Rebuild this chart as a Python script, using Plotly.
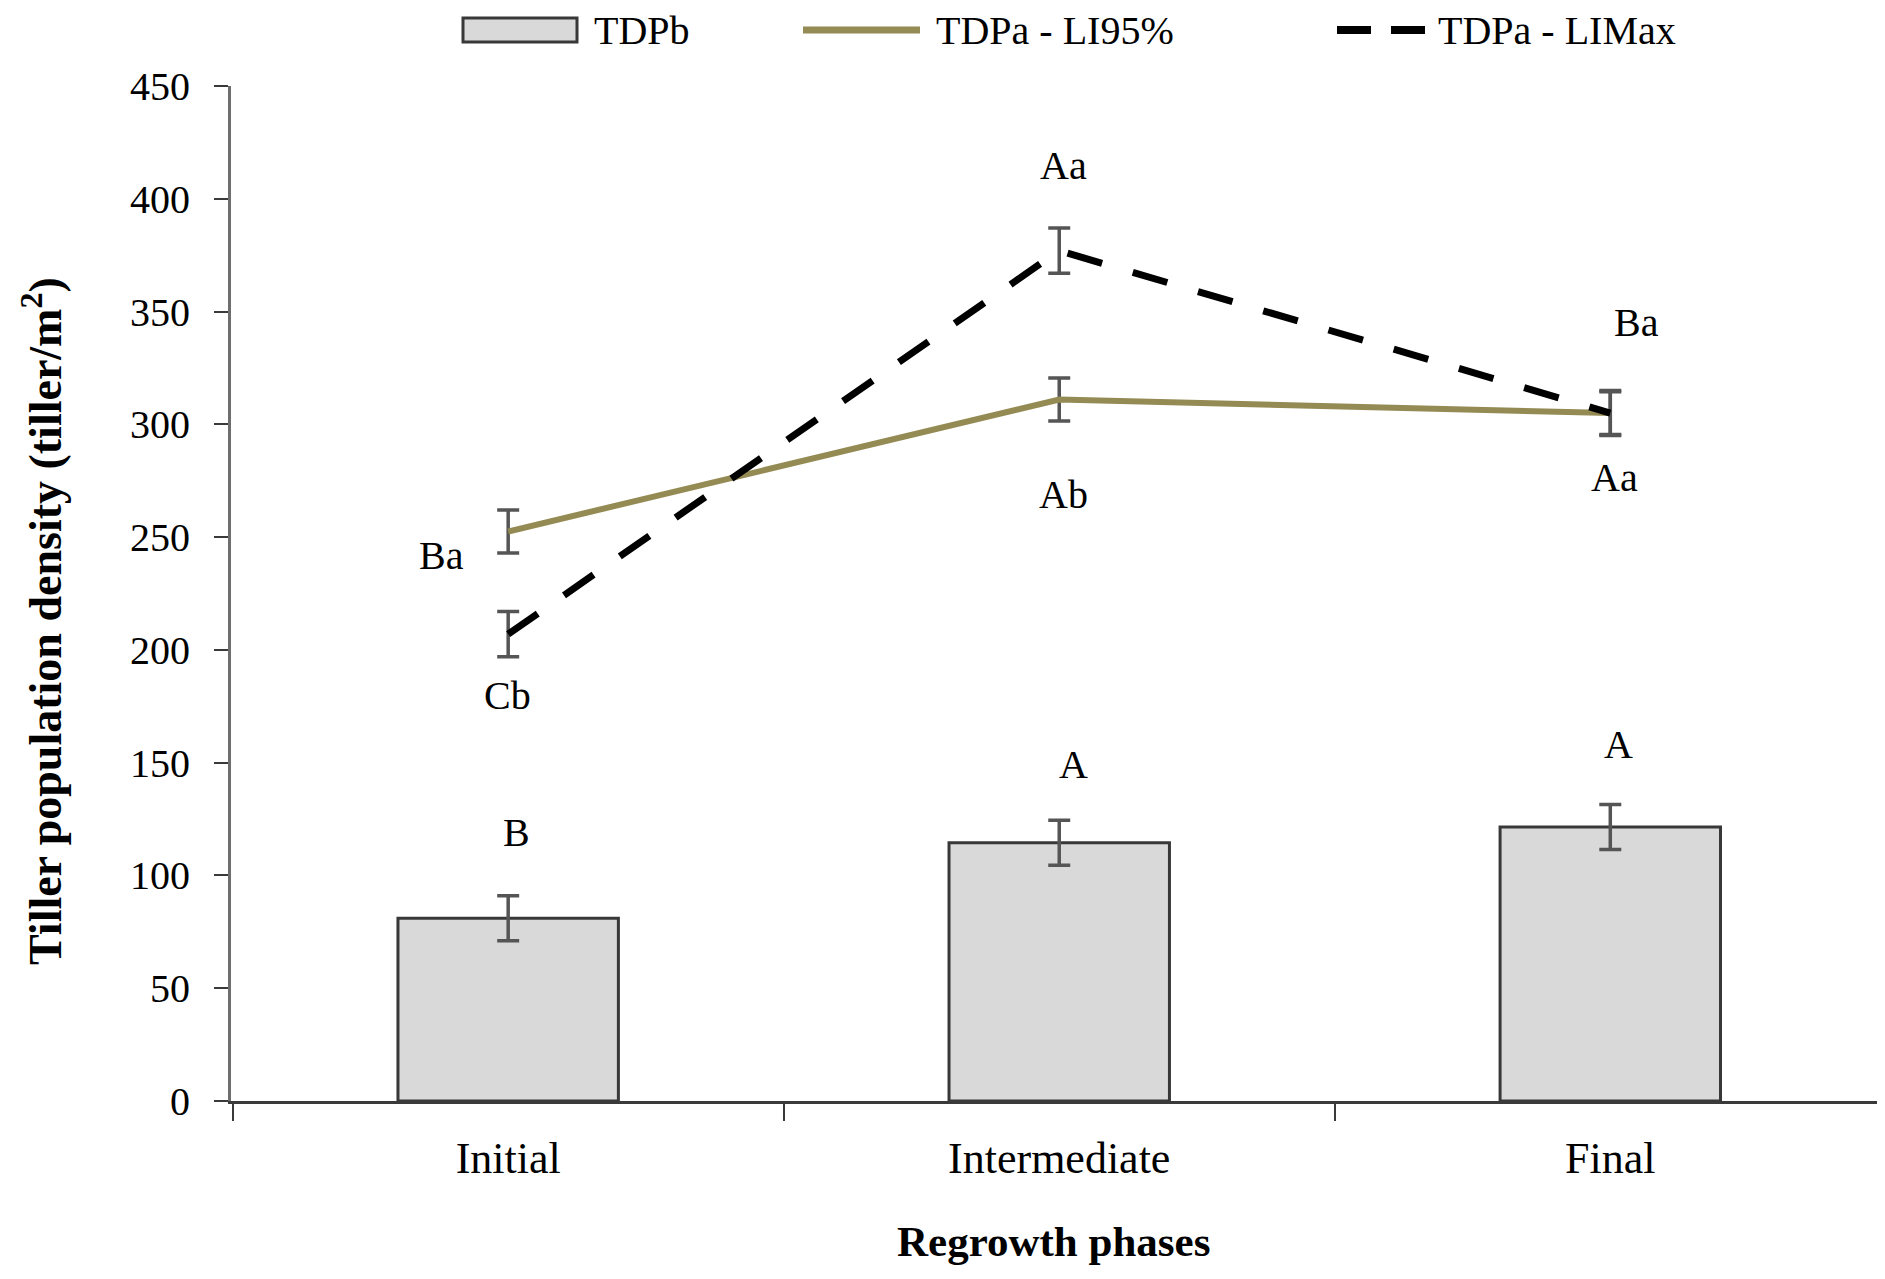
import plotly.graph_objects as go

# ---- data ----
categories = ["Initial", "Intermediate", "Final"]
tdpb = [81, 114.5, 121.5]
tdpb_err = [10, 10, 10]
li95 = [252.5, 311, 305]
li95_err = [9.5, 9.5, 9.5]
limax = [207, 377, 305]
limax_err = [10, 10, 10]

y_ticks = [0, 50, 100, 150, 200, 250, 300, 350, 400, 450]

bar_letters = ["B", "A", "A"]
li95_letters = ["Ba", "Ab", "Aa"]
limax_letters = ["Cb", "Aa", "Ba"]

series_names = ["TDPb", "TDPa - LI95%", "TDPa - LIMax"]

FONT = "Liberation Serif, Times New Roman, DejaVu Serif, serif"
ERR_COLOR = "#555555"
BAR_FILL = "#d9d9d9"
BAR_EDGE = "#383838"
OLIVE = "#948a54"
DASH = "36px,32px"

# figure geometry (page has an 8px body margin)
OFF = 8
W, H = 1885 - 2 * OFF, 1279 - 2 * OFF
L, R, T = 231 - OFF, 0, 86 - OFF
B = H - (1101 - OFF)
pw, ph = W - L - R, H - T - B


def px_x(v):
    """page pixel x -> paper fraction"""
    return (v - OFF - L) / pw


def px_y(v):
    """page pixel y -> paper fraction"""
    return (H - B - (v - OFF)) / ph


fig = go.Figure()

fig.add_trace(go.Bar(
    x=categories, y=tdpb, name=series_names[0], width=0.40,
    marker=dict(color=BAR_FILL, line=dict(color=BAR_EDGE, width=3)),
    error_y=dict(type="data", array=tdpb_err, visible=True,
                 color=ERR_COLOR, thickness=3.5, width=11),
))
fig.add_trace(go.Scatter(
    x=categories, y=li95, name=series_names[1], mode="lines",
    line=dict(color=OLIVE, width=6),
    error_y=dict(type="data", array=li95_err, visible=True,
                 color=ERR_COLOR, thickness=3.5, width=11),
))
fig.add_trace(go.Scatter(
    x=categories, y=limax, name=series_names[2], mode="lines",
    line=dict(color="#000000", width=7, dash=DASH),
    error_y=dict(type="data", array=limax_err, visible=True,
                 color=ERR_COLOR, thickness=3.5, width=11),
))

# letter label placement (layout only)
label_specs = [
    (bar_letters, [119, 149, 158], [8, 14, 8]),
    (li95_letters, [242, 268.7, 276.6], [-67, 4, 4]),
    (limax_letters, [180, 414.7, 345], [-1, 4, 26]),
]
annotations = []
for letters, ys, xs in label_specs:
    for cat, txt, yy, xsft in zip(categories, letters, ys, xs):
        annotations.append(dict(
            x=cat, y=yy, text=txt, showarrow=False, xshift=xsft,
            yanchor="middle", xanchor="center",
            font=dict(family=FONT, size=40, color="black"),
        ))

# axis titles
annotations.append(dict(
    xref="paper", yref="paper", x=px_x(42), y=px_y(621),
    xanchor="center", yanchor="middle", textangle=-90, showarrow=False,
    text="<b>Tiller population density (tiller/m<sup>2</sup>)</b>",
    font=dict(family=FONT, size=46, color="black"),
))
annotations.append(dict(
    xref="paper", yref="paper", x=px_x(1053), y=px_y(1241),
    xanchor="center", yanchor="middle", showarrow=False,
    text="<b>Regrowth phases</b>",
    font=dict(family=FONT, size=43, color="black"),
))

# custom legend drawn above the plot (paper coordinates)
shapes = [
    dict(type="rect", xref="paper", yref="paper",
         x0=px_x(463), x1=px_x(577), y0=px_y(42), y1=px_y(18),
         fillcolor=BAR_FILL, line=dict(color=BAR_EDGE, width=3)),
    dict(type="line", xref="paper", yref="paper",
         x0=px_x(803), x1=px_x(920), y0=px_y(30), y1=px_y(30),
         line=dict(color=OLIVE, width=7)),
    dict(type="line", xref="paper", yref="paper",
         x0=px_x(1337), x1=px_x(1425), y0=px_y(30), y1=px_y(30),
         line=dict(color="#000000", width=8, dash="34px,20px")),
]
for name, left in zip(series_names, [592, 934, 1436]):
    annotations.append(dict(
        xref="paper", yref="paper", x=px_x(left), y=px_y(31),
        xanchor="left", yanchor="middle", showarrow=False, text=name,
        font=dict(family=FONT, size=40, color="black"),
    ))

fig.update_layout(
    width=W, height=H,
    margin=dict(l=L, r=R, t=T, b=B),
    paper_bgcolor="white", plot_bgcolor="white",
    font=dict(family=FONT, size=38, color="black"),
    barmode="overlay",
    annotations=annotations,
    shapes=shapes,
    showlegend=False,
    xaxis=dict(
        range=[-0.503, 2.484], showgrid=False, zeroline=False, automargin=False,
        showline=True, linecolor="#3a3a3a", linewidth=3,
        ticks="outside", tickson="boundaries", ticklen=17,
        tickcolor="#3a3a3a", tickwidth=2,
        tickfont=dict(family=FONT, size=44, color="black"),
        ticklabelstandoff=16,
    ),
    yaxis=dict(
        range=[0, 450], tickvals=y_ticks, showgrid=False, zeroline=False,
        automargin=False,
        showline=True, linecolor="#6e6e6e", linewidth=3,
        ticks="outside", ticklen=14, tickcolor="#3a3a3a", tickwidth=2,
        tickfont=dict(family=FONT, size=40, color="black"),
        ticklabelstandoff=16,
    ),
)

fig.write_html("out.html")
